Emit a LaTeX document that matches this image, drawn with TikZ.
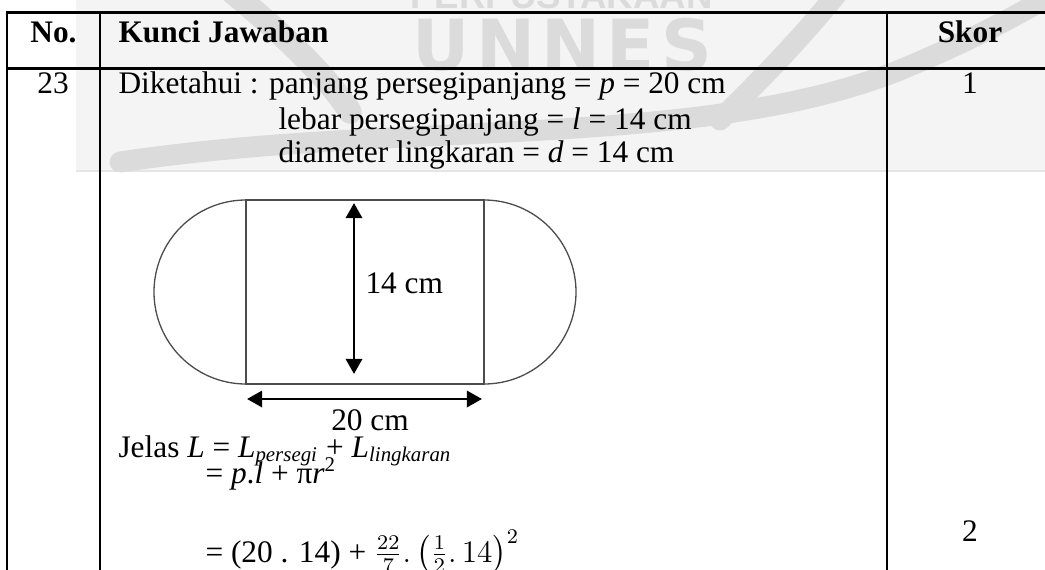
\documentclass[tikz,border=0pt]{standalone}
\usepackage{amsmath}
\usepackage{fontspec}
\setmainfont{Liberation Serif}
\newfontfamily\wmfont[LetterSpace=9]{DejaVu Sans}
\newfontfamily\wmsmallfont{Liberation Sans}
\usetikzlibrary{arrows.meta,positioning}

\definecolor{wmback}{gray}{0.955}
\definecolor{wmmark}{gray}{0.86}
\definecolor{shapegray}{gray}{0.3}

\begin{document}
\begin{tikzpicture}[x=0.3828pt,y=0.3828pt,
  font=\fontsize{12}{14}\selectfont,
  tabline/.style={line width=0.9pt},
  shapeline/.style={shapegray,line width=0.5pt},
  dimarrow/.style={line width=1.1pt,
    {Triangle[length=5.8pt,width=6.2pt]}-{Triangle[length=5.8pt,width=6.2pt]}},
  txt/.style={anchor=base west,inner sep=0pt},
  ctxt/.style={anchor=base,inner sep=0pt}]

  \useasboundingbox (0,0) rectangle (1045,-569);
  \clip (0,0) rectangle (1045,-569);

  % watermark behind the first rows
  \fill[wmback] (76,0) rectangle (1045,-171);
  \draw[gray!20,line width=1pt] (76,-171) -- (1045,-171);
  \draw[wmmark,line width=9pt,line cap=round]
    (232,8) .. controls (290,-40) and (330,-80) .. (350,-112);
  \draw[wmmark,line width=8pt,line cap=round]
    (120,-162) .. controls (400,-120) and (700,-150) .. (900,-70)
    .. controls (960,-45) and (1010,-20) .. (1060,10);
  \draw[wmmark,line width=8pt,line cap=round]
    (840,10) .. controls (800,-40) and (760,-80) .. (720,-120);
  \node[txt,wmmark,font=\wmsmallfont\bfseries\fontsize{14}{14}\selectfont]
    (wmsub) at (410,-8) {PERPUSTAKAAN};
  \node[txt,wmmark,font=\wmfont\bfseries\fontsize{27}{27}\selectfont]
    (wmtitle) at (412,-70) {UNNES};

  % table rules
  \draw[tabline] (6,-12.5) -- (1050,-12.5);
  \draw[tabline] (6,-68.5) -- (1050,-68.5);
  \draw[tabline] (7,-12) -- (7,-575);
  \draw[tabline] (100,-12) -- (100,-575);
  \draw[tabline] (887,-12) -- (887,-575);

  % header row
  \node[ctxt,font=\fontsize{12}{14}\selectfont\bfseries] (no) at (53.5,-42) {No.};
  \node[txt,font=\fontsize{12}{14}\selectfont\bfseries] (kunci) at (118,-42) {Kunci Jawaban};
  \node[ctxt,font=\fontsize{12}{14}\selectfont\bfseries] (skor) at (970,-42) {Skor};

  % row 23
  \node[ctxt] (nomor) at (53,-93) {23};
  \node[txt] (diket) at (118,-93) {Diketahui : panjang persegipanjang = \textit{p} = 20 cm};
  \node[txt] (lebar) at (278,-129) {lebar persegipanjang = \textit{l} = 14 cm};
  \node[txt] (diam) at (278,-162) {diameter lingkaran = \textit{d} = 14 cm};
  \node[ctxt] (skorA) at (970,-93) {1};

  % figure: rectangle with two half circles
  \coordinate (tl) at (246,-200);
  \coordinate (br) at (484,-384);
  \coordinate (tr) at (484,-200);
  \coordinate (bl) at (246,-384);
  \draw[shapeline] (tl) rectangle (br);
  \draw[shapeline] (tl) arc[start angle=90,end angle=270,radius=92];
  \draw[shapeline] (tr) arc[start angle=90,end angle=-90,radius=92];

  \coordinate (vtop) at (354,-203);
  \coordinate (vbot) at (354,-374);
  \coordinate (hleft) at (247,-399);
  \coordinate (hright) at (482,-399);
  \draw[dimarrow] (vtop) -- (vbot);
  \draw[dimarrow] (hleft) -- (hright);
  \node[txt] (lbar) at (365,-293.5) {14 cm};
  \node[ctxt] (pbar) at (370,-430) {20 cm};

  % working
  \node[txt] (jelas) at (118,-457)
    {Jelas \textit{L} = \textit{L}\textsubscript{\textit{persegi}} + \textit{L}\textsubscript{\textit{lingkaran}}};
  \node[txt] (rumus) at (205,-483) {= \textit{p}.\textit{l} + π\textit{r}\textsuperscript{2}};
  \node[txt] (hitung) at (205,-562)
    {= (20 . 14) + $\frac{22}{7}.\left(\frac{1}{2}.\,14\right)^{2}$};
  \node[ctxt] (skorB) at (970,-541) {2};
\end{tikzpicture}
\end{document}
